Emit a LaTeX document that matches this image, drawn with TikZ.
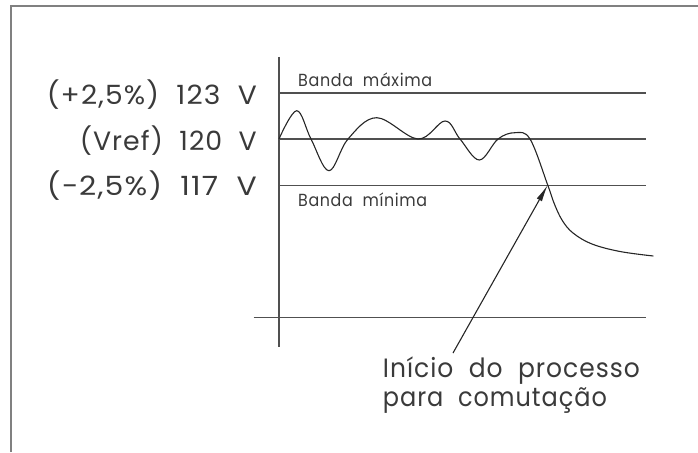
\documentclass[tikz,border=0pt]{standalone}
\usepackage{fontspec}
\usepackage{graphicx}
\setmainfont{Poppins}[LetterSpace=4]
\usetikzlibrary{arrows.meta}
\definecolor{txtc}{HTML}{3A3A3A}
\definecolor{linec}{HTML}{505050}
\definecolor{framec}{HTML}{808080}
\tikzset{
  bigtxt/.style={inner sep=0pt, text=txtc, font=\fontsize{26.5}{30}\selectfont},
  smalltxt/.style={inner sep=0pt, text=txtc, font=\fontsize{17.5}{20}\selectfont},
  gridline/.style={draw=linec, line width=1.3pt},
  wave/.style={draw=black!85, line width=1.1pt},
  pointer/.style={draw=black!85, line width=1.1pt, -{Latex[length=17pt,width=6pt]}},
  frameline/.style={draw=framec, line width=2pt}
}
\begin{document}
\begin{tikzpicture}[x=1pt, y=-1pt]
\useasboundingbox (0,0) rectangle (698,452);
% frame
\coordinate (fbl) at (10.5,452);
\coordinate (ftl) at (10.5,6);
\coordinate (ftr) at (698,6);
\draw[frameline] (fbl) -- (ftl) -- (ftr);
% axes and bands
\coordinate (axtop) at (279,57);
\coordinate (axbot) at (279,347);
\coordinate (maxL) at (279,93);
\coordinate (maxR) at (646,93);
\coordinate (refL) at (279,139);
\coordinate (refR) at (646,139);
\coordinate (minL) at (279,185.3);
\coordinate (minR) at (646,185.3);
\coordinate (botL) at (253.5,317.3);
\coordinate (botR) at (646,317.3);
\draw[gridline] (axtop) -- (axbot);
\draw[gridline] (maxL) -- (maxR);
\draw[gridline] (refL) -- (refR);
\draw[gridline] (minL) -- (minR);
\draw[gridline] (botL) -- (botR);
% left labels
\node[bigtxt, anchor=base east] (l1) at (257,104) {\resizebox{210pt}{\height}{(+2,5\%)\ \ 123\ \ V}};
\node[bigtxt, anchor=base east] (l2) at (257,150) {\resizebox{177pt}{\height}{(Vref)\ \ 120\ \ V}};
\node[bigtxt, anchor=base east] (l3) at (257,195) {\resizebox{210pt}{\height}{(\textminus2,5\%)\ \ 117\ \ V}};
% band labels
\node[smalltxt, anchor=base west] (bmax) at (298,86.5) {\resizebox{134pt}{\height}{Banda\ \ máxima}};
\node[smalltxt, anchor=base west] (bmin) at (298,206) {\resizebox{129pt}{\height}{Banda\ \ mínima}};
% voltage curve
\coordinate (tip) at (547.7,185);
\draw[wave] plot[smooth, tension=0.6] coordinates {
 (279,139) (296.7,110.7) (311,139) (329,170.7) (348,139) (376.7,117.7)
 (418,139) (445,121) (460,139) (479.3,160) (498,139) (515,132.7)
 (530,139) (547.7,185) (554,203) (562,220) (573,233) (592,244) (620,251.5) (653.3,256)};
% annotation
\node[bigtxt, anchor=base west] (ann1) at (382.7,377.7) {\resizebox{257pt}{\height}{Início\ \ do\ \ processo}};
\node[bigtxt, anchor=base west] (ann2) at (382.7,406.7) {\resizebox{224pt}{\height}{para\ \ comutação}};
\coordinate (tail) at (453,353);
\draw[pointer] (tail) -- (tip);
\end{tikzpicture}
\end{document}
